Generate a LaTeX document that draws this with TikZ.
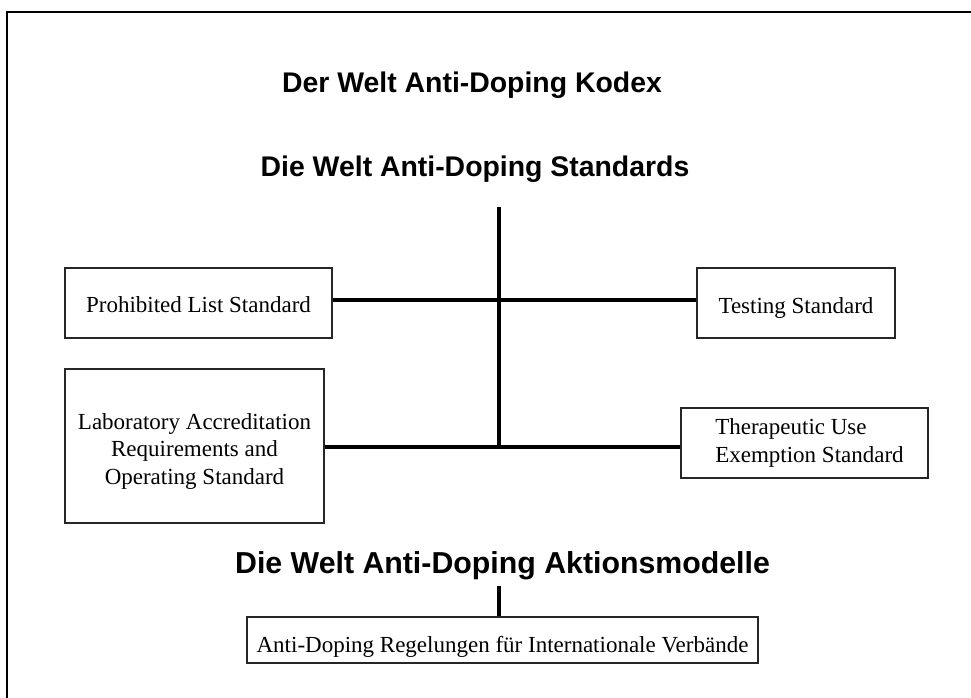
\documentclass[tikz,border=0pt]{standalone}
\usepackage{fontspec}
\setmainfont{Liberation Serif}
\setsansfont{Liberation Sans}
\begin{document}
\begin{tikzpicture}[x=1pt,y=-1pt,
  heading/.style={font=\sffamily\bfseries\fontsize{28.4}{33}\selectfont, inner sep=0pt},
  bigheading/.style={font=\sffamily\bfseries\fontsize{30.3}{35}\selectfont, inner sep=0pt},
  stdbox/.style={draw=black!85, line width=1.1pt, inner sep=0pt,
    font=\fontsize{23}{27.5}\selectfont},
  link/.style={line width=4.5pt}]
\useasboundingbox (0,0) rectangle (971,697);
\draw[line width=2.5pt] (7,12) rectangle (990,720);

\node[heading] (kodex) at (472,85) {Der Welt Anti-Doping Kodex};
\node[heading] (stand) at (475,169) {Die Welt Anti-Doping Standards};
\node[bigheading] (aktion) at (502.5,566) {Die Welt Anti-Doping Aktionsmodelle};

\node[stdbox, minimum width=267pt, minimum height=70pt, text height=18pt, text depth=0pt] (pro) at (198.5,303) {Prohibited List Standard};
\node[stdbox, minimum width=198pt, minimum height=70pt, text height=20pt, text depth=0pt] (tst) at (796,303) {Testing Standard};
\node[stdbox, minimum width=259pt, minimum height=154pt, align=center] (lab) at (194.5,446)
  {\rule{0pt}{26pt}Laboratory Accreditation\\Requirements and\\Operating Standard};
\node[stdbox, minimum width=247pt, minimum height=70pt, align=left] (ther) at (804.5,443)
  {\hspace*{10pt}Therapeutic Use\\\hspace*{10pt}Exemption Standard};
\node[stdbox, minimum width=511pt, minimum height=46pt, text height=24pt, text depth=0pt] (regel) at (502.5,640)
  {Anti-Doping Regelungen für Internationale Verbände};

\coordinate (vtop) at (499,207);
\coordinate (vbot) at (499,447);
\coordinate (atop) at (499,586);

\draw[link] (vtop) -- (vbot);
\draw[link, transform canvas={yshift=3pt}] (pro.east) -- (tst.west);
\draw[link] (vbot -| lab.east) -- (vbot -| ther.west);
\draw[link] (atop) -- (atop |- regel.north);
\end{tikzpicture}
\end{document}
